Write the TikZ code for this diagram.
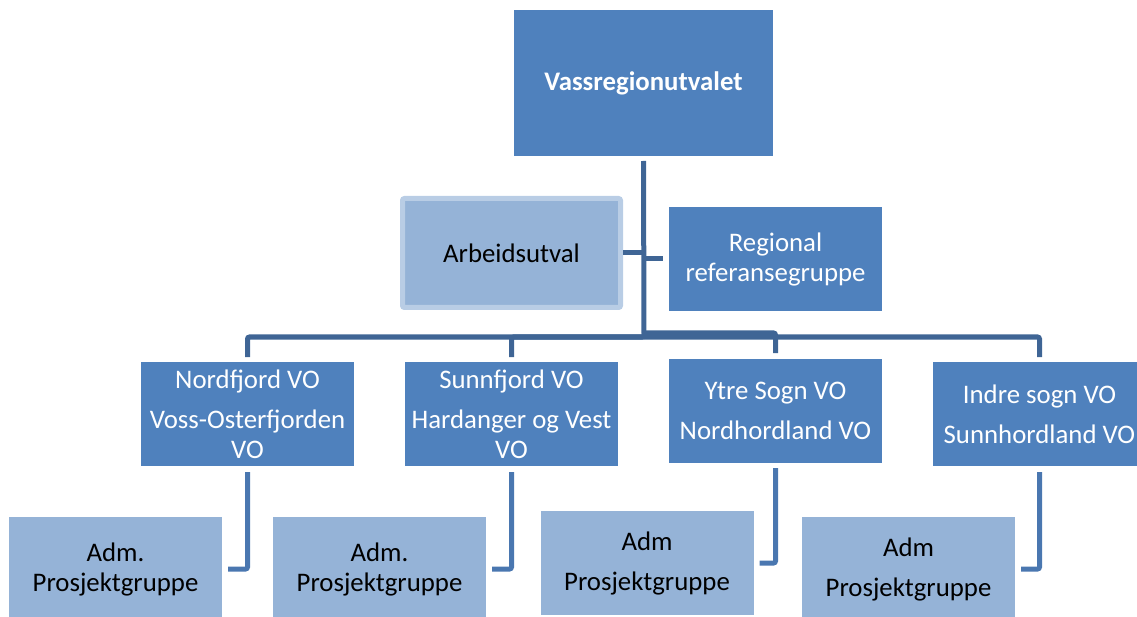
\documentclass[tikz,border=0pt]{standalone}
\usepackage{fontspec}
\setmainfont{Carlito}
\definecolor{boxblue}{HTML}{4F81BD}
\definecolor{lightblue}{HTML}{95B3D7}
\definecolor{paleborder}{HTML}{B9CDE5}
\definecolor{trunkblue}{HTML}{3F6595}
\definecolor{dropblue}{HTML}{4A77B0}
\begin{document}
\begin{tikzpicture}[x=1pt,y=-1pt,
  every node/.style={font=\fontsize{26.8}{30}\selectfont, align=center, inner sep=0pt, outer sep=0pt},
  mainbox/.style={fill=boxblue, text=white, minimum width=213pt, minimum height=104pt},
  lightbox/.style={fill=lightblue, text=black, minimum width=213pt, minimum height=104pt},
  conn/.style={draw=trunkblue, line width=5pt, rounded corners=2pt},
  conn2/.style={draw=dropblue, line width=5pt, rounded corners=2pt}]
\useasboundingbox (0,0) rectangle (1137,617);
\begin{scope}
\clip (0,0) rectangle (1137,617);
% top
\node[mainbox, minimum width=259pt, minimum height=146pt, font=\fontsize{26.8}{30}\selectfont\bfseries] (vr) at (643.5,83) {Vassregionutvalet};
% second level
\node[lightbox, draw=paleborder, line width=5pt, rounded corners=2pt, minimum width=218pt, minimum height=109pt] (au) at (511.5,253) {Arbeidsutval};
\node[mainbox] (rr) at (775.5,259) {Regional\\referansegruppe};
% VO level
\node[mainbox] (nf) at (247.5,414) {Nordfjord VO\\[10pt]Voss-Osterfjorden\\VO};
\node[mainbox] (sf) at (511.5,414) {Sunnfjord VO\\[10pt]Hardanger og Vest\\VO};
\node[mainbox] (ys) at (775.5,411) {Ytre Sogn VO\\[10pt]Nordhordland VO};
\node[mainbox] (is) at (1039.5,414) {Indre sogn VO\\[10pt]Sunnhordland VO};
% Adm level
\node[lightbox] (a1) at (115.5,569) {Adm.\\Prosjektgruppe};
\node[lightbox] (a2) at (379.5,569) {Adm.\\Prosjektgruppe};
\node[lightbox] (a3) at (647,563) {Adm\\[10pt]Prosjektgruppe};
\node[lightbox] (a4) at (908.5,569) {Adm\\[10pt]Prosjektgruppe};
% bus coordinates
\coordinate (busL) at (644,337);
\coordinate (busR) at (644,333);
% connectors
\draw[conn] ([yshift=-5pt]vr.south) -- (busL) -| ([yshift=5pt]nf.north);
\draw[conn] (busL) -| ([yshift=5pt]sf.north);
\draw[conn] (busR) -| ([yshift=6pt]ys.north);
\draw[conn] (busL) -| ([yshift=5pt]is.north);
\draw[conn] ([xshift=2.5pt]au.east) -- (au.east -| busL);
\draw[conn] (rr.west -| busL) -- ([xshift=-6pt]rr.west);
\draw[conn2] ([yshift=-6pt]nf.south) |- ([xshift=6pt]a1.east);
\draw[conn2] ([yshift=-6pt]sf.south) |- ([xshift=6pt]a2.east);
\draw[conn2] ([yshift=-5pt]ys.south) |- ([xshift=6pt]a3.east);
\draw[conn2] ([yshift=-6pt]is.south) |- ([xshift=6pt]a4.east);
\end{scope}
\end{tikzpicture}
\end{document}
